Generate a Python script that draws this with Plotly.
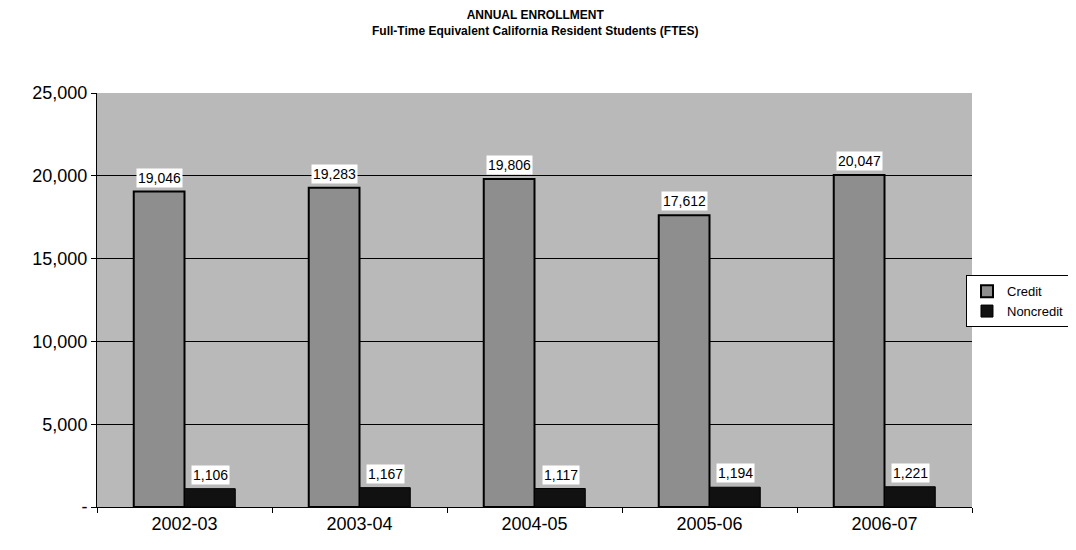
import plotly.graph_objects as go

categories = ["2002-03", "2003-04", "2004-05", "2005-06", "2006-07"]
credit = [19046, 19283, 19806, 17612, 20047]
noncredit = [1106, 1167, 1117, 1194, 1221]
ytick_vals = [0, 5000, 10000, 15000, 20000, 25000]
ytick_text = ["-", "5,000", "10,000", "15,000", "20,000", "25,000"]

fig = go.Figure()
fig.add_trace(go.Bar(name="Credit", x=categories, y=credit,
                     marker=dict(color="#8e8e8e", line=dict(color="black", width=2))))
fig.add_trace(go.Bar(name="Noncredit", x=categories, y=noncredit,
                     marker=dict(color="#111111", line=dict(color="black", width=1))))

for i, c in enumerate(categories):
    for vals, shift in ((credit, -25), (noncredit, 26)):
        fig.add_annotation(x=c, y=vals[i], xref="x", yref="y", xshift=shift, yshift=4,
                           text=f"{vals[i]:,}", showarrow=False, yanchor="bottom",
                           bgcolor="white", borderpad=1,
                           font=dict(family="Liberation Sans, Arial", size=14, color="black"))

fig.add_annotation(text="<b>ANNUAL ENROLLMENT<br>Full-Time Equivalent California Resident Students (FTES)</b>",
                   xref="paper", yref="paper", x=0.5, y=1.209, xanchor="center", yanchor="top",
                   showarrow=False, font=dict(family="Liberation Sans, Arial", size=12, color="black"))

fig.update_layout(
    width=1068, height=542,
    margin=dict(l=89, r=104, t=85, b=43, autoexpand=False),
    paper_bgcolor="white", plot_bgcolor="#b9b9b9",
    barmode="group", bargap=0.42, bargroupgap=0,
    font=dict(family="Liberation Sans, Arial", color="black"),
    legend=dict(xref="container", yref="container", x=0.897, y=0.459, xanchor="left", yanchor="middle",
                bordercolor="black", borderwidth=1, bgcolor="white",
                font=dict(size=13), tracegroupgap=0, itemwidth=30),
    showlegend=True,
)
fig.update_xaxes(type="category", showgrid=False, showline=True, linecolor="black", linewidth=1,
                 ticks="outside", tickson="boundaries", ticklen=5, tickcolor="black",
                 tickfont=dict(size=18), automargin=False)
fig.update_yaxes(range=[0, 25000], tickvals=ytick_vals, ticktext=ytick_text,
                 showgrid=True, gridcolor="black", gridwidth=1,
                 showline=True, linecolor="black", linewidth=1,
                 ticks="outside", ticklen=5, tickcolor="black",
                 tickfont=dict(size=18), zeroline=False, automargin=False)

fig.write_html("out.html")
